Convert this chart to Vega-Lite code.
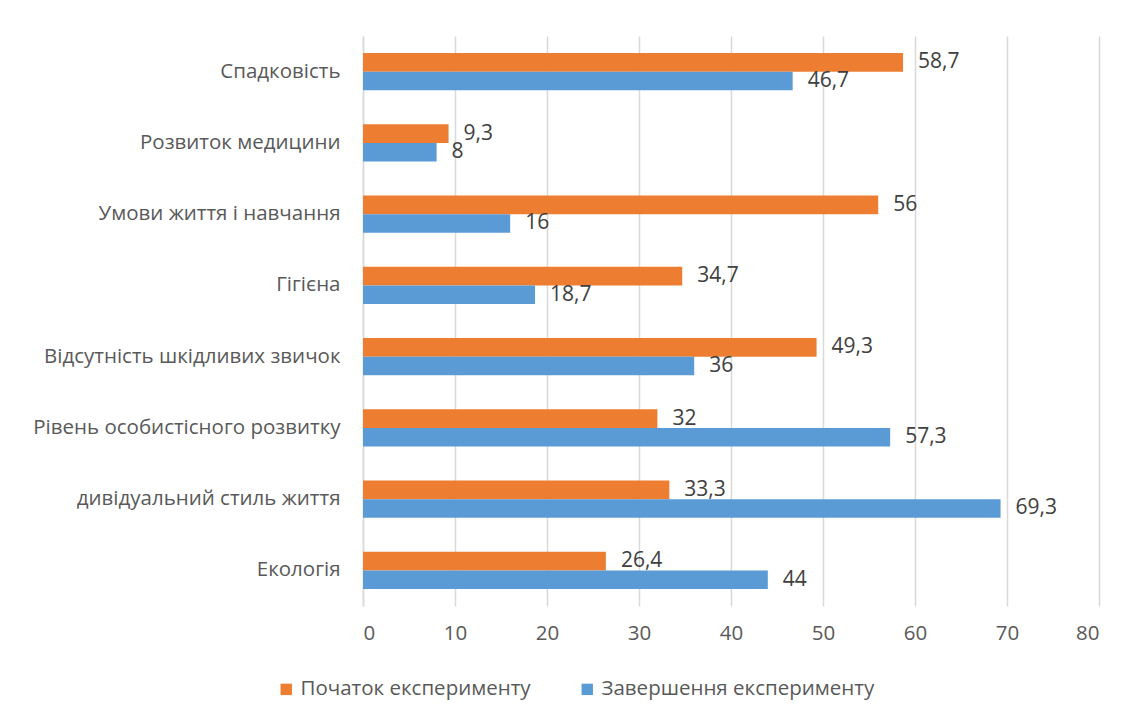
{
  "$schema": "https://vega.github.io/schema/vega-lite/v6.json",
  "width": 736,
  "height": 570,
  "autosize": {"type": "none"},
  "padding": {"left": 363, "top": 36, "right": 39, "bottom": 118},
  "background": "white",
  "config": {
    "font": "Open Sans",
    "view": {"stroke": null},
    "locale": {"number": {"decimal": ",", "thousands": " ", "grouping": [3], "currency": ["", " ₴"]}}
  },
  "data": {
    "values": [
      {"category": "Спадковість", "series": "Початок експерименту", "value": 58.7},
      {"category": "Спадковість", "series": "Завершення експерименту", "value": 46.7},
      {"category": "Розвиток медицини", "series": "Початок експерименту", "value": 9.3},
      {"category": "Розвиток медицини", "series": "Завершення експерименту", "value": 8},
      {"category": "Умови життя і навчання", "series": "Початок експерименту", "value": 56},
      {"category": "Умови життя і навчання", "series": "Завершення експерименту", "value": 16},
      {"category": "Гігієна", "series": "Початок експерименту", "value": 34.7},
      {"category": "Гігієна", "series": "Завершення експерименту", "value": 18.7},
      {"category": "Відсутність шкідливих звичок", "series": "Початок експерименту", "value": 49.3},
      {"category": "Відсутність шкідливих звичок", "series": "Завершення експерименту", "value": 36},
      {"category": "Рівень особистісного  розвитку", "series": "Початок експерименту", "value": 32},
      {"category": "Рівень особистісного  розвитку", "series": "Завершення експерименту", "value": 57.3},
      {"category": "дивідуальний стиль життя", "series": "Початок експерименту", "value": 33.3},
      {"category": "дивідуальний стиль життя", "series": "Завершення експерименту", "value": 69.3},
      {"category": "Екологія", "series": "Початок експерименту", "value": 26.4},
      {"category": "Екологія", "series": "Завершення експерименту", "value": 44}
    ]
  },
  "encoding": {
    "y": {
      "field": "category",
      "type": "nominal",
      "sort": null,
      "scale": {"paddingInner": 0.48, "paddingOuter": 0.24},
      "axis": {
        "title": null,
        "ticks": false,
        "grid": false,
        "domain": true,
        "domainColor": "#d9d9d9",
        "domainWidth": 1.5,
        "labelPadding": 23,
        "labelFontSize": 20.5,
        "labelColor": "#595959",
        "labelLimit": 0
      }
    },
    "yOffset": {
      "field": "series",
      "type": "nominal",
      "sort": ["Початок експерименту", "Завершення експерименту"]
    },
    "x": {
      "field": "value",
      "type": "quantitative",
      "scale": {"domain": [0, 80], "nice": false},
      "axis": {
        "title": null,
        "values": [0, 10, 20, 30, 40, 50, 60, 70, 80],
        "format": "d",
        "grid": true,
        "gridColor": "#d9d9d9",
        "gridWidth": 1.5,
        "domain": false,
        "ticks": false,
        "labelPadding": 17,
        "labelFontSize": 20.5,
        "labelColor": "#595959"
      }
    }
  },
  "layer": [
    {
      "mark": {"type": "bar"},
      "encoding": {
        "color": {
          "field": "series",
          "type": "nominal",
          "sort": ["Початок експерименту", "Завершення експерименту"],
          "scale": {"domain": ["Початок експерименту", "Завершення експерименту"], "range": ["#ED7D31", "#5B9BD5"]},
          "legend": {
            "title": null,
            "orient": "none",
            "direction": "horizontal",
            "legendX": -87,
            "legendY": 643,
            "symbolType": "square",
            "symbolSize": 130,
            "symbolStrokeWidth": 0,
            "labelFontSize": 20.5,
            "labelColor": "#595959",
            "labelOffset": 4,
            "columnPadding": 46,
            "labelLimit": 0
          }
        }
      }
    },
    {
      "mark": {"type": "text", "align": "left", "baseline": "middle", "dx": 15, "fontSize": 21, "color": "#404040"},
      "encoding": {
        "text": {"field": "value", "type": "quantitative", "format": "~r"}
      }
    }
  ]
}
